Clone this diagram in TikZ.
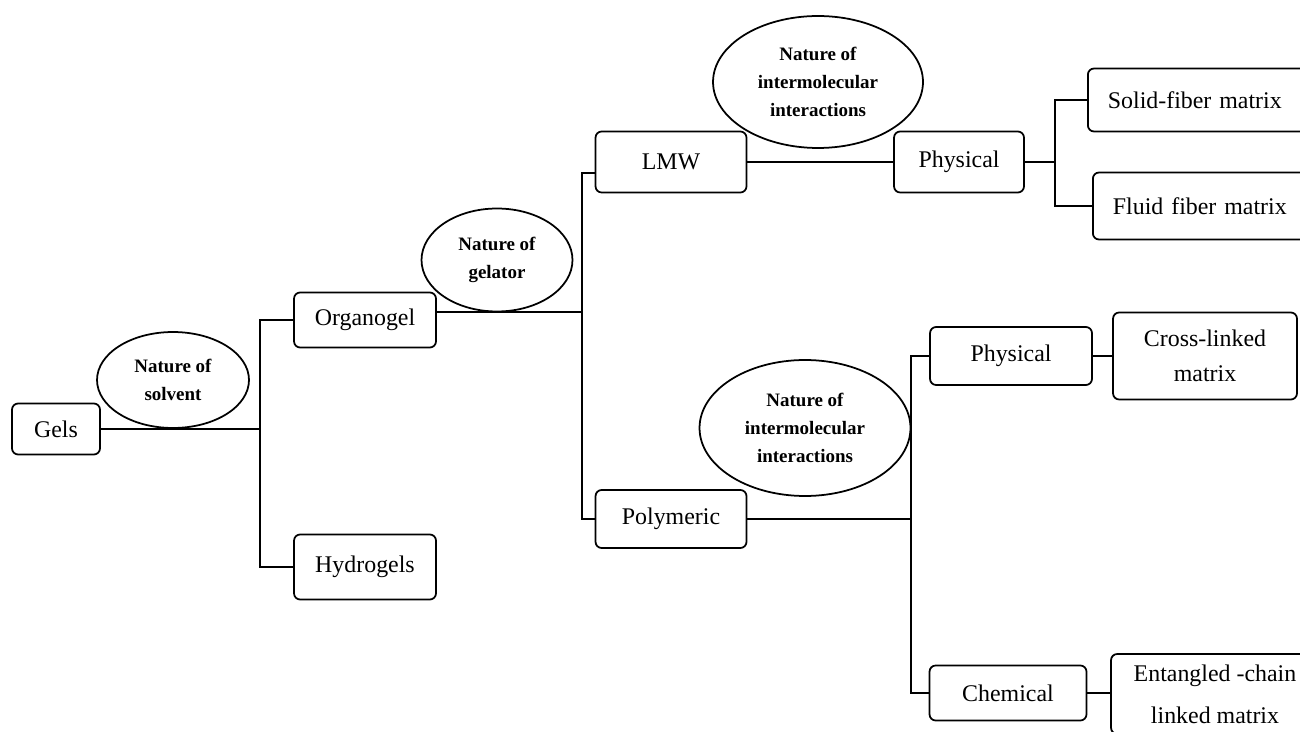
\documentclass[tikz,border=0pt]{standalone}
\usepackage{fontspec}
\setmainfont{Liberation Serif}
\usetikzlibrary{shapes.geometric}

\begin{document}
\begin{tikzpicture}[x=0.02cm, y=-0.02cm,
  box/.style={draw, rounded corners=3.5pt, line width=1pt, inner sep=0pt,
    align=center, font=\fontsize{13.6}{20}\selectfont},
  oval/.style={draw, ellipse, line width=1pt, inner sep=0pt,
    align=center, font=\fontsize{10.8}{15.9}\selectfont\bfseries},
  link/.style={line width=1pt}]
  \useasboundingbox (0,0) rectangle (1300,732);
  \clip (0,0) rectangle (1300,732);

  % Boxes, left to right
  \node[box, minimum width=1.76cm, minimum height=1.02cm] (gels) at (56,429) {Gels};
  \node[box, minimum width=2.84cm, minimum height=1.10cm] (organo) at (365,320) {Organogel};
  \node[box, minimum width=2.84cm, minimum height=1.30cm] (hydro) at (365,567) {Hydrogels};
  \node[box, minimum width=3.02cm, minimum height=1.22cm] (lmw) at (671,162) {LMW};
  \node[box, minimum width=3.02cm, minimum height=1.16cm] (poly) at (671,519) {Polymeric};
  \node[box, minimum width=2.60cm, minimum height=1.22cm] (physA) at (959,162) {Physical};
  \node[box, minimum width=3.24cm, minimum height=1.16cm] (physB) at (1011,356) {Physical};
  \node[box, minimum width=3.14cm, minimum height=1.10cm] (chem) at (1008,693) {Chemical};

  % Boxes cut off at the right edge
  \node[box, anchor=west, align=left, text width=5cm, inner xsep=0.4cm,
    minimum height=1.26cm] (solid) at (1087,100) {Solid-fiber matrix};
  \node[box, anchor=west, align=left, text width=5cm, inner xsep=0.4cm,
    minimum height=1.34cm] (fluid) at (1092,206) {Fluid fiber matrix};
  \node[box, minimum width=3.68cm, minimum height=1.74cm] (cross) at (1205,356) {Cross-linked\\matrix};
  \node[box, minimum width=4.16cm, minimum height=1.60cm,
    font=\fontsize{13.6}{24}\selectfont] (ent) at (1215,694) {Entangled -chain\\linked matrix};

  % Ellipses naming each split
  \node[oval, minimum width=3.04cm, minimum height=1.92cm] (solvent) at (173,380) {Nature of\\solvent};
  \node[oval, minimum width=3.02cm, minimum height=2.06cm] (gelator) at (497,260) {Nature of\\gelator};
  \node[oval, minimum width=4.20cm, minimum height=2.64cm] (interA) at (818,82) {Nature of\\intermolecular\\interactions};
  \node[oval, minimum width=4.22cm, minimum height=2.72cm] (interB) at (805,428) {Nature of\\intermolecular\\interactions};

  % Gels: organogel or hydrogel
  \coordinate (s1) at (260,429);
  \draw[link] (gels.east) -- (s1);
  \draw[link] (organo.west) -| (s1) |- (hydro.west);

  % Organogel: LMW or polymeric
  \coordinate (g1) at (582,312);
  \draw[link] (organo.east |- g1) -- (g1);
  \draw[link] ([yshift=-0.22cm]lmw.west) -| (g1) |- (poly.west);

  % LMW branch
  \coordinate (f1) at (1055,162);
  \draw[link] (lmw.east) -- (physA.west);
  \draw[link] (physA.east) -- (f1);
  \draw[link] (solid.west) -| (f1) |- (fluid.west);

  % Polymeric branch
  \coordinate (p1) at (911,519);
  \draw[link] (poly.east) -- (p1);
  \draw[link] (physB.west) -| (p1) |- (chem.west);
  \draw[link] (physB.east) -- (physB.east -| cross.west);
  \draw[link] (chem.east) -- (chem.east -| ent.west);
\end{tikzpicture}
\end{document}
